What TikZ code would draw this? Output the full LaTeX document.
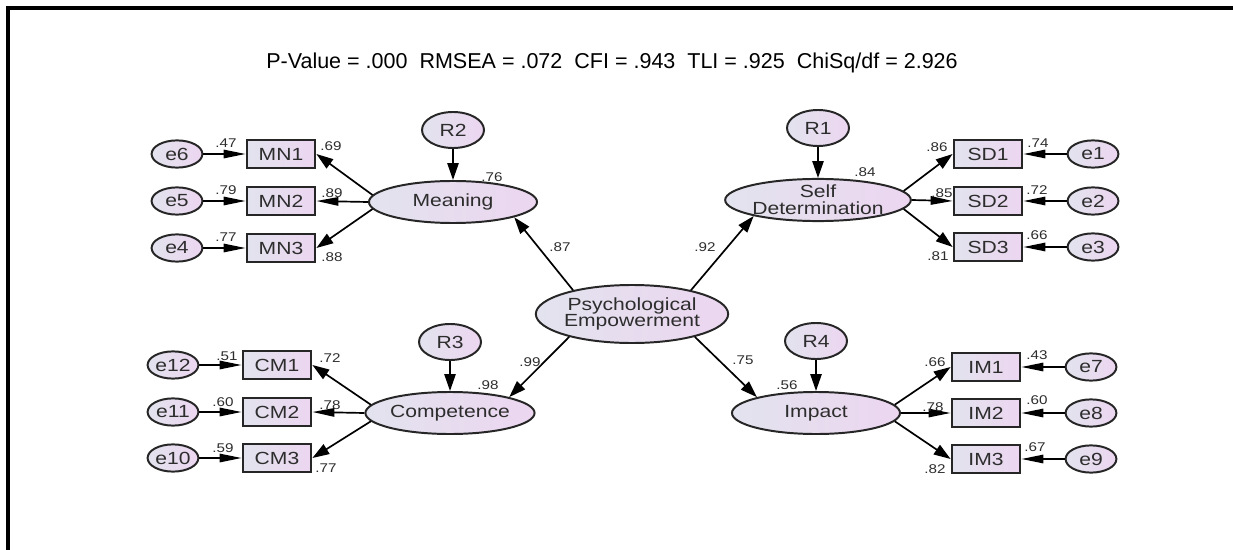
\documentclass[tikz,border=0pt]{standalone}
\usepackage{fontspec}
\setmainfont{Liberation Sans}
\newfontfamily\amosfont[FakeStretch=1.2]{Liberation Sans}
\usetikzlibrary{arrows.meta,shapes.geometric}

\definecolor{amosleft}{RGB}{226,227,238}
\definecolor{amosright}{RGB}{236,214,240}
\definecolor{amostext}{RGB}{45,45,45}

\tikzset{
    amosnode/.style={left color=amosleft, right color=amosright, draw=black!85,
        line width=1.4pt, text=amostext, inner sep=0pt},
    obs/.style={amosnode, rectangle, minimum width=1.72cm, minimum height=0.72cm,
        font=\amosfont\fontsize{12.5}{13}\selectfont},
    err/.style={amosnode, ellipse, minimum width=1.27cm, minimum height=0.68cm,
        font=\amosfont\fontsize{12.5}{13}\selectfont},
    resid/.style={amosnode, ellipse, minimum width=1.55cm, minimum height=0.9cm,
        font=\amosfont\fontsize{12.5}{13}\selectfont},
    latent/.style={amosnode, ellipse, minimum width=4.2cm, minimum height=1.05cm,
        align=center, font=\amosfont\fontsize{12.5}{12}\selectfont},
    est/.style={font=\amosfont\fontsize{9}{10}\selectfont, inner sep=1pt, text=amostext},
    regarrow/.style={-{Triangle[length=0.42cm,width=0.28cm]}, line width=1.2pt},
    errarrow/.style={-{Triangle[length=0.55cm,width=0.21cm]}, line width=1.2pt},
}

\begin{document}
\begin{tikzpicture}[x=0.025cm, y=-0.025cm]
    \useasboundingbox (0,0) rectangle (1233,550);
    % frame and fit indices
    \draw[line width=2.2pt] (8,550) -- (8,8) -- (1240,8);
    \node[font=\fontsize{15.3}{18}\selectfont] (fit) at (612,63)
        {P-Value = .000\ \ RMSEA = .072\ \ CFI = .943\ \ TLI = .925\ \ ChiSq/df = 2.926};

    % second order factor
    \node[latent, minimum width=4.5cm, minimum height=1.45cm] (pe) at (632,314)
        {Psychological\\Empowerment};

    % meaning
    \node[latent] (meaning) at (453,202) {Meaning};
    \node[resid] (r2) at (453,130) {R2};
    \node[obs] (mn1) at (281,154) {MN1};
    \node[obs] (mn2) at (281,201) {MN2};
    \node[obs] (mn3) at (281,248) {MN3};
    \node[err] (e6) at (177,154) {e6};
    \node[err] (e5) at (177,201) {e5};
    \node[err] (e4) at (177,248) {e4};

    % self determination
    \node[latent] (sd) at (818,200) {Self\\Determination};
    \node[resid] (r1) at (818,128) {R1};
    \node[obs] (sd1) at (988,154) {SD1};
    \node[obs] (sd2) at (988,201) {SD2};
    \node[obs] (sd3) at (988,247) {SD3};
    \node[err] (e1) at (1093,154) {e1};
    \node[err] (e2) at (1093,201) {e2};
    \node[err] (e3) at (1093,247) {e3};

    % competence
    \node[latent] (comp) at (450,413) {Competence};
    \node[resid] (r3) at (450,342) {R3};
    \node[obs] (cm1) at (277,365) {CM1};
    \node[obs] (cm2) at (277,412) {CM2};
    \node[obs] (cm3) at (277,458) {CM3};
    \node[err] (e12) at (173,365) {e12};
    \node[err] (e11) at (173,412) {e11};
    \node[err] (e10) at (173,458) {e10};

    % impact
    \node[latent] (impact) at (816,413) {Impact};
    \node[resid] (r4) at (816,341) {R4};
    \node[obs] (im1) at (986,367) {IM1};
    \node[obs] (im2) at (986,413) {IM2};
    \node[obs] (im3) at (986,459) {IM3};
    \node[err] (e7) at (1091,367) {e7};
    \node[err] (e8) at (1091,413) {e8};
    \node[err] (e9) at (1091,459) {e9};

    % structural paths
    \draw[regarrow] (pe.158) -- (meaning.-14);
    \draw[regarrow] (pe.22) -- (sd.194);
    \draw[regarrow] (pe.200) -- (comp.15);
    \draw[regarrow] (pe.-20) -- (impact.165);
    \draw[regarrow] (r2) -- (meaning);
    \draw[regarrow] (r1) -- (sd);
    \draw[regarrow] (r3) -- (comp);
    \draw[regarrow] (r4) -- (impact);

    % loadings
    \draw[regarrow] (meaning.175) -- (mn1.east);
    \draw[errarrow] (meaning.west) -- (mn2.east);
    \draw[regarrow] (meaning.185) -- (mn3.east);
    \draw[regarrow] (sd.6) -- (sd1.west);
    \draw[errarrow] (sd.east) -- (sd2.west);
    \draw[regarrow] (sd.-6) -- (sd3.west);
    \draw[regarrow] (comp.174) -- (cm1.east);
    \draw[errarrow] (comp.west) -- (cm2.east);
    \draw[regarrow] (comp.186) -- (cm3.east);
    \draw[regarrow] (impact.6) -- (im1.west);
    \draw[errarrow] (impact.east) -- (im2.west);
    \draw[regarrow] (impact.-6) -- (im3.west);

    % error terms
    \draw[errarrow] (e6) -- (mn1);
    \draw[errarrow] (e5) -- (mn2);
    \draw[errarrow] (e4) -- (mn3);
    \draw[errarrow] (e1) -- (sd1);
    \draw[errarrow] (e2) -- (sd2);
    \draw[errarrow] (e3) -- (sd3);
    \draw[errarrow] (e12) -- (cm1);
    \draw[errarrow] (e11) -- (cm2);
    \draw[errarrow] (e10) -- (cm3);
    \draw[errarrow] (e7) -- (im1);
    \draw[errarrow] (e8) -- (im2);
    \draw[errarrow] (e9) -- (im3);

    % estimates
    \node[est] (w-pe-mn) at (560,247) {.87};
    \node[est] (w-pe-sd) at (705,247) {.92};
    \node[est] (w-pe-cm) at (530,362) {.99};
    \node[est] (w-pe-im) at (743,360) {.75};
    \node[est] (sq-mn) at (492,177) {.76};
    \node[est] (sq-sd) at (865,172) {.84};
    \node[est] (sq-cm) at (488,385) {.98};
    \node[est] (sq-im) at (787,385) {.56};

    \node[est] (sq-mn1) at (226,143) {.47};
    \node[est] (sq-mn2) at (226,190) {.79};
    \node[est] (sq-mn3) at (226,237) {.77};
    \node[est] (w-mn1) at (331,146) {.69};
    \node[est] (w-mn2) at (332,193) {.89};
    \node[est] (w-mn3) at (332,257) {.88};

    \node[est] (w-sd1) at (937,147) {.86};
    \node[est] (w-sd2) at (942,193) {.85};
    \node[est] (w-sd3) at (938,256) {.81};
    \node[est] (sq-sd1) at (1038,143) {.74};
    \node[est] (sq-sd2) at (1037,190) {.72};
    \node[est] (sq-sd3) at (1037,235) {.66};

    \node[est] (sq-cm1) at (227,356) {.51};
    \node[est] (sq-cm2) at (223,402) {.60};
    \node[est] (sq-cm3) at (223,448) {.59};
    \node[est] (w-cm1) at (330,358) {.72};
    \node[est] (w-cm2) at (330,405) {.78};
    \node[est] (w-cm3) at (326,468) {.77};

    \node[est] (w-im1) at (935,362) {.66};
    \node[est] (w-im2) at (933,407) {.78};
    \node[est] (w-im3) at (935,469) {.82};
    \node[est] (sq-im1) at (1037,355) {.43};
    \node[est] (sq-im2) at (1037,400) {.60};
    \node[est] (sq-im3) at (1035,447) {.67};
\end{tikzpicture}
\end{document}
